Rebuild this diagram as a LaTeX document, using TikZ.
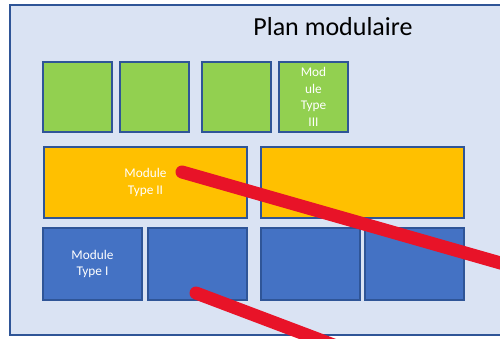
\documentclass[tikz,border=0pt]{standalone}
\usepackage{fontspec}
\setmainfont{Carlito}
\definecolor{bgblue}{HTML}{DAE3F3}
\definecolor{edgeblue}{HTML}{2F5597}
\definecolor{mgreen}{HTML}{92D050}
\definecolor{morange}{HTML}{FFC000}
\definecolor{mblue}{HTML}{4472C4}
\definecolor{mred}{HTML}{E81328}
\begin{document}
\begin{tikzpicture}[x=1pt,y=-1pt,
  modbox/.style={draw=edgeblue,line width=2.4pt,inner sep=0pt,
    font=\fontsize{13.3}{16.5}\selectfont,text=white,align=center},
  greenbox/.style={modbox,fill=mgreen,minimum width=69pt,minimum height=70pt},
  orangebox/.style={modbox,fill=morange,minimum width=203pt,minimum height=71pt},
  bluebox/.style={modbox,fill=mblue,minimum width=99pt,minimum height=72pt},
  redline/.style={draw=mred,line width=13pt,line cap=round}]
\useasboundingbox (0,0) rectangle (500,338);
\clip (0,0) rectangle (500,338);
\fill[white] (0,0) rectangle (500,338);
\node[draw=edgeblue,fill=bgblue,line width=2pt,minimum width=520pt,minimum height=330pt,anchor=north west,inner sep=0pt] (frame) at (9,4) {};
\node[font=\fontsize{26}{30}\selectfont,anchor=base] (title) at (333,35) {Plan modulaire};
% green row
\node[greenbox] (g1) at (77.5,97) {};
\node[greenbox] (g2) at (154.5,97) {};
\node[greenbox] (g3) at (236.5,97) {};
\node[greenbox] (g4) at (313.5,97) {Mod\\ule\\Type\\III};
% orange row
\node[orangebox] (o1) at (145.5,182.5) {Module\\Type II};
\node[orangebox] (o2) at (362.5,182.5) {};
% blue row
\node[bluebox] (b1) at (92.5,264) {Module\\Type I};
\node[bluebox] (b2) at (197.5,264) {};
\node[bluebox] (b3) at (310.5,264) {};
\node[bluebox] (b4) at (414.5,264) {};
% red lines
\coordinate (r1s) at (182,172);
\coordinate (r1e) at (560,280);
\coordinate (r2s) at (196,293);
\coordinate (r2e) at (360,355);
\draw[redline] (r1s) -- (r1e);
\draw[redline] (r2s) -- (r2e);
\end{tikzpicture}
\end{document}
